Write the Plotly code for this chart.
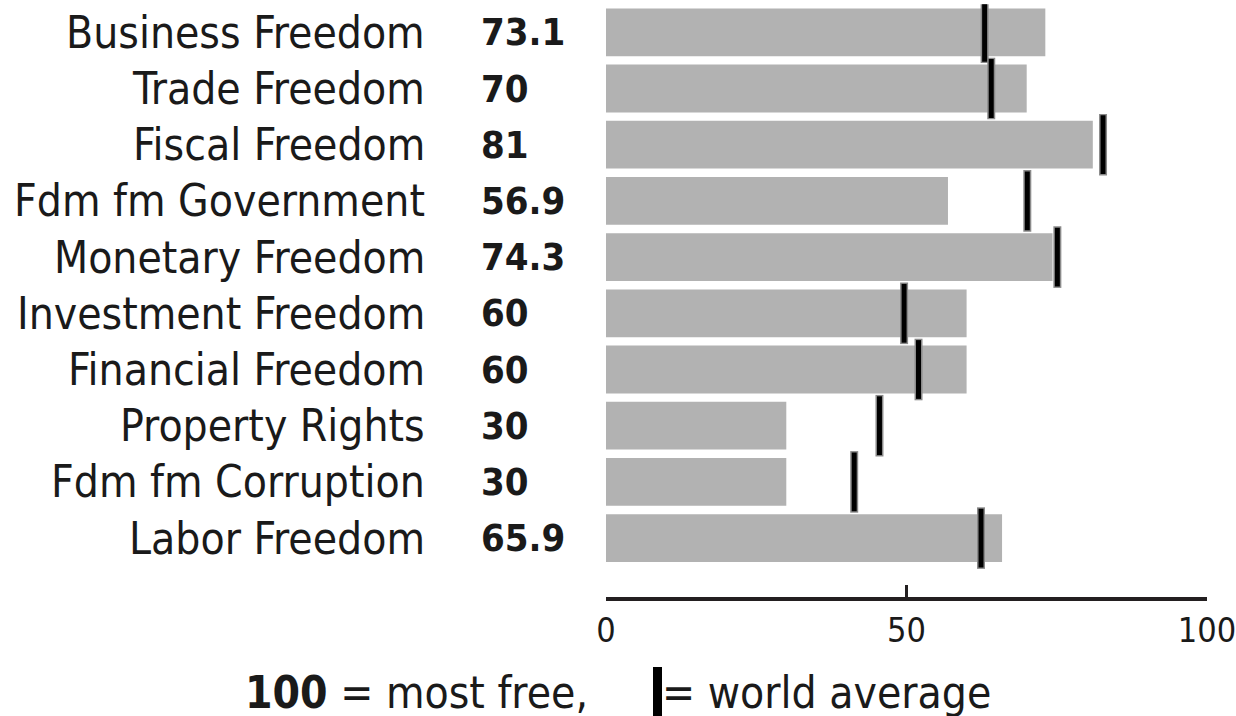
import plotly.graph_objects as go

categories = ["Business Freedom", "Trade Freedom", "Fiscal Freedom", "Fdm fm Government",
              "Monetary Freedom", "Investment Freedom", "Financial Freedom", "Property Rights",
              "Fdm fm Corruption", "Labor Freedom"]
scores = [73.1, 70, 81, 56.9, 74.3, 60, 60, 30, 30, 65.9]
score_labels = ["73.1", "70", "81", "56.9", "74.3", "60", "60", "30", "30", "65.9"]
world_avg = [63.0, 64.1, 82.7, 70.1, 75.1, 49.6, 52.0, 45.5, 41.3, 62.4]
tick_vals = [0, 50, 100]
tick_text = ["0", "50", "100"]

FONT = "DejaVu Sans Condensed, Liberation Sans Narrow, Lato, sans-serif"
TXT = "#1a1a1a"
W, H = 1236, 716


def fx(x_screen):
    return x_screen / W


def fy(y_screen):
    return 1 - y_screen / H


fig = go.Figure()
fig.add_trace(go.Bar(
    x=scores, y=categories, orientation="h",
    marker=dict(color="#b2b2b2", line=dict(width=0)),
    width=0.85, hoverinfo="skip", showlegend=False,
))
fig.add_trace(go.Scatter(
    x=world_avg, y=categories, mode="markers",
    marker=dict(symbol="line-ns", size=44, color="#8a8a8a",
                line=dict(color="#8a8a8a", width=8)),
    hoverinfo="skip", showlegend=False,
))
fig.add_trace(go.Scatter(
    x=world_avg, y=categories, mode="markers",
    marker=dict(symbol="line-ns", size=42, color="black",
                line=dict(color="black", width=5)),
    hoverinfo="skip", showlegend=False,
))

annotations = []
for c, s in zip(categories, score_labels):
    annotations.append(dict(x=fx(427), xref="paper", y=c, yref="y", text=c,
                            xanchor="right", yanchor="middle", showarrow=False,
                            font=dict(family=FONT, size=44, color=TXT)))
    annotations.append(dict(x=fx(479), xref="paper", y=c, yref="y", text="<b>" + s + "</b>",
                            xanchor="left", yanchor="middle", showarrow=False,
                            font=dict(family=FONT, size=38, color=TXT)))

annotations.append(dict(x=fx(590), xref="paper", y=fy(692), yref="paper",
                        text="<b>100</b> = most free,", xanchor="right", yanchor="middle",
                        showarrow=False, font=dict(family=FONT, size=44, color=TXT)))
annotations.append(dict(x=fx(660), xref="paper", y=fy(692), yref="paper",
                        text="= world average", xanchor="left", yanchor="middle",
                        showarrow=False, font=dict(family=FONT, size=44, color=TXT)))

shapes = [dict(type="line", xref="paper", yref="paper",
               x0=fx(657.5), x1=fx(657.5), y0=fy(667), y1=0,
               line=dict(color="black", width=9))]

fig.update_layout(
    width=W, height=H,
    margin=dict(l=0, r=0, t=0, b=0, autoexpand=False),
    plot_bgcolor="white", paper_bgcolor="white",
    xaxis=dict(domain=[fx(606), fx(1207)], range=[0, 100], tickvals=tick_vals,
               ticktext=tick_text, showgrid=False, zeroline=False,
               showline=True, linecolor="#231f20", linewidth=4,
               ticks="inside", ticklen=12, tickwidth=3, tickcolor="#231f20",
               tickfont=dict(family=FONT, size=34, color=TXT), automargin=False,
               ticklabelstandoff=0, ticklabeloverflow="allow", fixedrange=True),
    yaxis=dict(domain=[fy(597), fy(4.2)], range=[10.048, -0.5], automargin=False,
               showticklabels=False, showgrid=False, zeroline=False,
               showline=False, ticks="", fixedrange=True),
    annotations=annotations,
    shapes=shapes,
)

fig.write_html(
    "out.html",
    config={"displayModeBar": False},
    post_script="document.body.style.margin='0';document.documentElement.style.overflow='hidden';",
)
